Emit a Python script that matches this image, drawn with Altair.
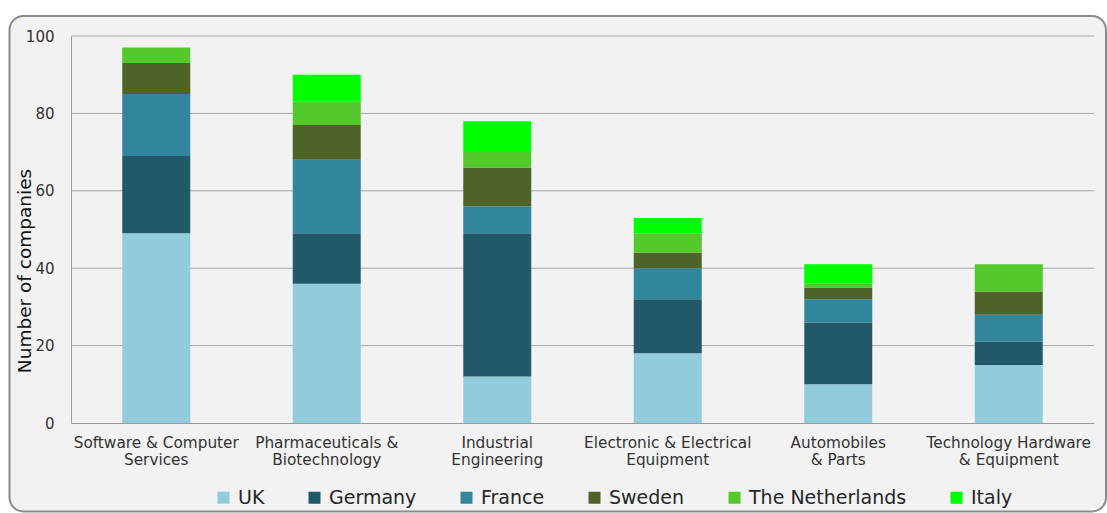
import altair as alt
import pandas as pd

# Sectors (line breaks mark where the axis labels wrap)
sectors = [
    "Software & Computer\nServices",
    "Pharmaceuticals &\nBiotechnology",
    "Industrial\nEngineering",
    "Electronic & Electrical\nEquipment",
    "Automobiles\n& Parts",
    "Technology Hardware\n& Equipment",
]

countries = ["UK", "Germany", "France", "Sweden", "The Netherlands", "Italy"]
colors = ["#92CBDC", "#215968", "#31859C", "#4F6228", "#53C92B", "#00FF00"]

# Number of companies per sector, one list per country
uk = [49, 36, 12, 18, 10, 15]
germany = [20, 13, 37, 14, 16, 6]
france = [16, 19, 7, 8, 6, 7]
sweden = [8, 9, 10, 4, 3, 6]
netherlands = [4, 6, 4, 5, 1, 7]
italy = [0, 7, 8, 4, 5, 0]

y_ticks = [0, 20, 40, 60, 80, 100]

series = [uk, germany, france, sweden, netherlands, italy]
rows = []
for rank, (country, values) in enumerate(zip(countries, series)):
    for sector, v in zip(sectors, values):
        rows.append({"sector": sector, "country": country, "count": v, "rank": rank})
df = pd.DataFrame(rows)

W, H = 1023, 387
FONT = "DejaVu Sans"

y_scale = alt.Scale(domain=[0, 100], nice=False)
y_axis = alt.Axis(
    values=y_ticks,
    grid=False,
    ticks=False,
    tickSize=0,
    labelFont=FONT,
    labelFontSize=15,
    labelColor="#333333",
    labelPadding=17,
    domainColor="#9A9A9A",
    domainWidth=1,
    titleFont=FONT,
    titleFontSize=18.5,
    titleFontWeight="normal",
    titleColor="#111111",
    titleX=-41,
    titleY=234.5,
    titleBaseline="alphabetic",
    zindex=2,
)

# Rounded chart-area panel behind everything
panel = alt.Chart(pd.DataFrame({"k": [0]})).mark_rect(
    fill="#F2F2F2", stroke="#8A8A8A", strokeWidth=2, cornerRadius=14, clip=False
).encode(
    x=alt.value(-61.5), x2=alt.value(1035), y=alt.value(-20), y2=alt.value(475.5)
)

# Horizontal gridlines
grid = alt.Chart(pd.DataFrame({"count": y_ticks[1:]})).mark_rule(
    color="#A6A6A6", strokeWidth=1
).encode(
    y=alt.Y("count:Q", scale=y_scale, axis=y_axis, title="Number of companies"),
    x=alt.value(0),
    x2=alt.value(W),
)

bars = alt.Chart(df).mark_bar(size=68).encode(
    x=alt.X(
        "sector:N",
        sort=sectors,
        scale=alt.Scale(domain=sectors, paddingInner=0.6, paddingOuter=0.3),
        axis=alt.Axis(
            title=None,
            labelAngle=0,
            labelExpr="split(datum.label, '\\n')",
            labelFont=FONT,
            labelFontSize=15.3,
            labelLineHeight=17.5,
            labelColor="#333333",
            labelPadding=12,
            labelLimit=400,
            ticks=False,
            tickSize=0,
            domainColor="#9A9A9A",
            domainWidth=1,
            grid=False,
            zindex=2,
        ),
    ),
    y=alt.Y(
        "count:Q",
        stack="zero",
        scale=y_scale,
        title="Number of companies",
        axis=y_axis,
    ),
    color=alt.Color(
        "country:N",
        scale=alt.Scale(domain=countries, range=colors),
        legend=alt.Legend(
            title=None,
            orient="none",
            legendX=143,
            legendY=452,
            direction="horizontal",
            columns=6,
            columnPadding=40,
            symbolType="square",
            symbolSize=144,
            symbolStrokeWidth=0,
            labelFont=FONT,
            labelFontSize=19,
            labelOffset=5,
            labelLimit=400,
            labelColor="#262626",
            padding=0,
        ),
    ),
    order=alt.Order("rank:Q", sort="ascending"),
)

chart = (
    alt.layer(panel, grid, bars)
    .properties(
        width=W,
        height=H,
        autosize=alt.AutoSizeParams(type="none"),
        padding={"left": 71, "top": 36, "right": 13, "bottom": 90},
    )
    .configure(background="white")
    .configure_view(stroke=None)
)

chart.save("out.html", embed_options={"renderer": "svg", "actions": False})
